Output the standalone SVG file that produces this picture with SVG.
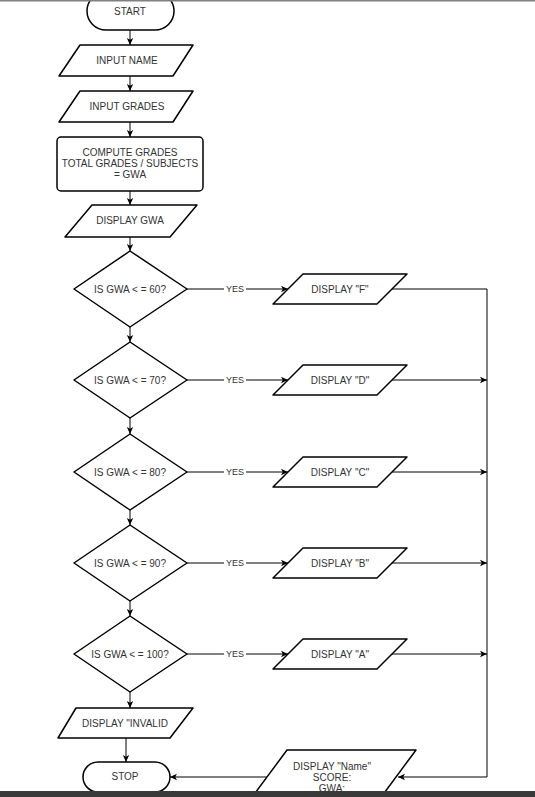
<svg xmlns="http://www.w3.org/2000/svg" width="535" height="797" viewBox="0 0 535 797">
<style>
.s{fill:#fff;stroke:#000;stroke-width:1.5;stroke-linejoin:round}
.t{font-family:"Liberation Sans",Arial,sans-serif;font-size:10px;fill:#333;text-anchor:middle;dominant-baseline:central}
.y{font-family:"Liberation Sans",Arial,sans-serif;font-size:9px;fill:#333;text-anchor:middle;dominant-baseline:central}
.c{fill:none;stroke:#000;stroke-width:1}
.a{marker-end:url(#ar)}
</style>
<defs>
<marker id="ar" markerUnits="userSpaceOnUse" markerWidth="8" markerHeight="8" refX="7" refY="4" orient="auto">
<path d="M0,0.8 L7,4 L0,7.2 L1.8,4 Z" fill="#000"/>
</marker>
</defs>
<rect width="535" height="797" fill="#fff"/>
<g id="connectors">
<path class="c a" d="M130,30 V45"/>
<path class="c a" d="M130,76 V91"/>
<path class="c a" d="M130,122 V137"/>
<path class="c a" d="M130,191 V205"/>
<path class="c a" d="M130,237 V251"/>
<path class="c a" d="M130,327 V342"/>
<path class="c a" d="M130,418 V434"/>
<path class="c a" d="M130,510 V525"/>
<path class="c a" d="M130,601 V616"/>
<path class="c a" d="M130,692 V708"/>
<path class="c a" d="M126,738 V762"/>
<path class="c a" d="M187,289 H288"/>
<path class="c a" d="M187,380 H288"/>
<path class="c a" d="M187,472 H288"/>
<path class="c a" d="M187,563 H288"/>
<path class="c a" d="M187,654 H288"/>
<path class="c" d="M392,289 H487 V777"/>
<path class="c a" d="M392,380 H487"/>
<path class="c a" d="M392,472 H487"/>
<path class="c a" d="M392,563 H487"/>
<path class="c a" d="M392,654 H487"/>
<path class="c a" d="M487,777 H398"/>
<path class="c a" d="M267,777 H170"/>
<g fill="#fff">
<rect x="224" y="283" width="22" height="11"/>
<rect x="224" y="374" width="22" height="11"/>
<rect x="224" y="466" width="22" height="11"/>
<rect x="224" y="557" width="22" height="11"/>
<rect x="224" y="648" width="22" height="11"/>
</g>
<text class="y" x="235" y="289">YES</text>
<text class="y" x="235" y="380">YES</text>
<text class="y" x="235" y="472">YES</text>
<text class="y" x="235" y="563">YES</text>
<text class="y" x="235" y="654">YES</text>
</g>
<g id="start"><rect class="s" x="87" y="-8" width="87" height="38" rx="19"/><text class="t" x="130" y="11">START</text></g>
<g id="input-name"><path class="s" d="M80,45 H193 L173,76 H59 Z"/><text class="t" x="127" y="60">INPUT NAME</text></g>
<g id="input-grades"><path class="s" d="M80,91 H193 L173,122 H59 Z"/><text class="t" x="127" y="106">INPUT GRADES</text></g>
<g id="compute"><rect class="s" x="57" y="137" width="146" height="54" rx="4"/><text class="t" x="130" y="152">COMPUTE GRADES</text><text class="t" x="130" y="163">TOTAL GRADES / SUBJECTS</text><text class="t" x="130" y="174">= GWA</text></g>
<g id="display-gwa"><path class="s" d="M92,205 H197 L170,237 H65 Z"/><text class="t" x="130" y="220">DISPLAY GWA</text></g>
<g id="d60"><path class="s" d="M130,251 L187,289 L130,327 L74,289 Z"/><text class="t" x="130" y="289">IS GWA &lt; = 60?</text></g>
<g id="d70"><path class="s" d="M130,342 L187,380 L130,418 L74,380 Z"/><text class="t" x="130" y="380">IS GWA &lt; = 70?</text></g>
<g id="d80"><path class="s" d="M130,434 L187,472 L130,510 L74,472 Z"/><text class="t" x="130" y="472">IS GWA &lt; = 80?</text></g>
<g id="d90"><path class="s" d="M130,525 L187,563 L130,601 L74,563 Z"/><text class="t" x="130" y="563">IS GWA &lt; = 90?</text></g>
<g id="d100"><path class="s" d="M130,616 L187,654 L130,692 L74,654 Z"/><text class="t" x="130" y="654">IS GWA &lt; = 100?</text></g>
<g id="show-f"><path class="s" d="M303,274 H407 L377,304 H273 Z"/><text class="t" x="340" y="289">DISPLAY "F"</text></g>
<g id="show-d"><path class="s" d="M303,365 H407 L377,395 H273 Z"/><text class="t" x="340" y="380">DISPLAY "D"</text></g>
<g id="show-c"><path class="s" d="M303,457 H407 L377,487 H273 Z"/><text class="t" x="340" y="472">DISPLAY "C"</text></g>
<g id="show-b"><path class="s" d="M303,548 H407 L377,578 H273 Z"/><text class="t" x="340" y="563">DISPLAY "B"</text></g>
<g id="show-a"><path class="s" d="M303,639 H407 L377,669 H273 Z"/><text class="t" x="340" y="654">DISPLAY "A"</text></g>
<g id="invalid"><path class="s" d="M76,708 H193 L170,738 H58 Z"/><text class="t" x="125" y="723">DISPLAY "INVALID</text></g>
<g id="display-name"><path class="s" d="M287,750 H416 L379,800 H250 Z"/><text class="t" x="332" y="766">DISPLAY "Name"</text><text class="t" x="332" y="777">SCORE:</text><text class="t" x="332" y="788">GWA:</text></g>
<g id="stop"><rect class="s" x="83" y="762" width="87" height="30" rx="15"/><text class="t" x="125" y="776">STOP</text></g>
<rect x="0" y="0" width="535" height="1.5" fill="#808080"/>
<rect x="0" y="791" width="535" height="6" fill="#3a3a3a"/>
</svg>
